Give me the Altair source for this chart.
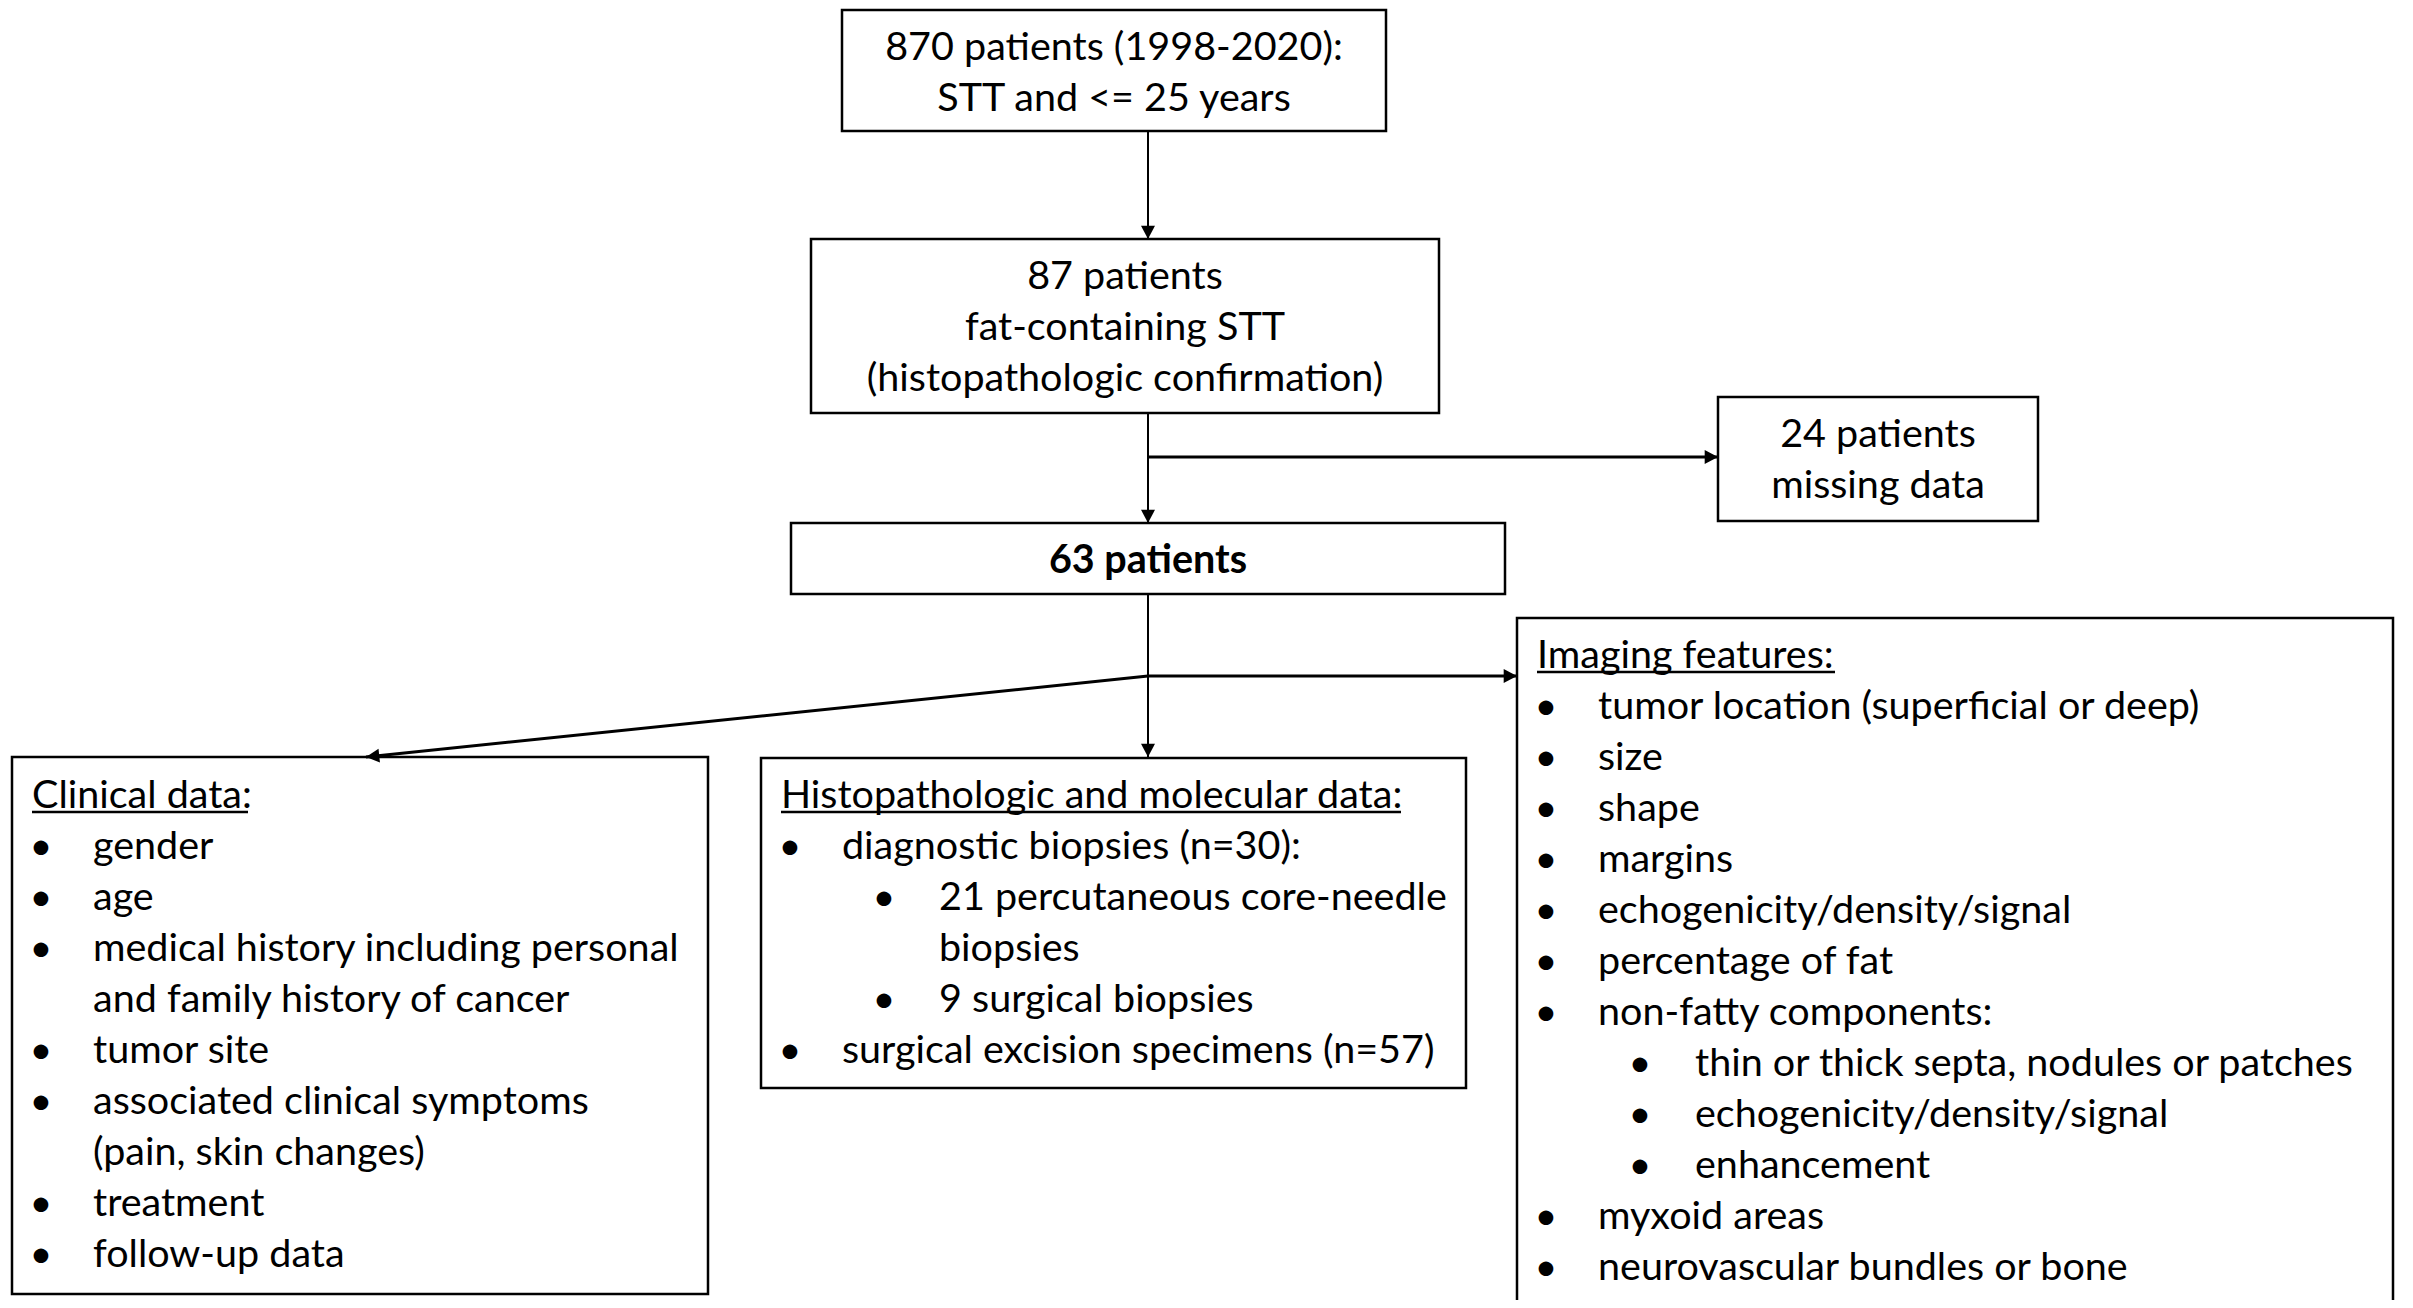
import math
import altair as alt
import pandas as pd

# ---------------- content ----------------
screening_lines = ["870 patients (1998-2020):", "STT and <= 25 years"]
fat_lines = ["87 patients", "fat-containing STT", "(histopathologic confirmation)"]
excluded_lines = ["24 patients", "missing data"]
included_lines = ["63 patients"]

clinical_title = "Clinical data:"
clinical_text = ["gender", "age", "medical history including personal",
                 "and family history of cancer", "tumor site",
                 "associated clinical symptoms", "(pain, skin changes)",
                 "treatment", "follow-up data"]
clinical_level = [1, 1, 1, 1, 1, 1, 1, 1, 1]
clinical_bullet = [1, 1, 1, 0, 1, 1, 0, 1, 1]

histo_title = "Histopathologic and molecular data:"
histo_text = ["diagnostic biopsies (n=30):", "21 percutaneous core-needle",
              "biopsies", "9 surgical biopsies",
              "surgical excision specimens (n=57)"]
histo_level = [1, 2, 2, 2, 1]
histo_bullet = [1, 1, 0, 1, 1]

imaging_title = "Imaging features:"
imaging_text = ["tumor location (superficial or deep)", "size", "shape", "margins",
                "echogenicity/density/signal", "percentage of fat",
                "non-fatty components:", "thin or thick septa, nodules or patches",
                "echogenicity/density/signal", "enhancement", "myxoid areas",
                "neurovascular bundles or bone"]
imaging_level = [1, 1, 1, 1, 1, 1, 1, 2, 2, 2, 1, 1]
imaging_bullet = [1] * 12

# ---------------- layout (pixels) ----------------
W, H, M = 2395, 1292, 8
FONT = "Lato"
FS = 39.5
STEP = 51

BOX = {
    "screen": (842, 10, 1386, 131),
    "fat": (811, 239, 1439, 413),
    "excl": (1718, 397, 2038, 521),
    "incl": (791, 523, 1505, 594),
    "clin": (12, 757, 708, 1294),
    "histo": (761, 758, 1466, 1088),
    "img": (1517, 618, 2393, 1340),
}
CENTER_BASE = {
    "screen": (screening_lines, [60, 111], "normal"),
    "fat": (fat_lines, [289, 340, 391], "normal"),
    "excl": (excluded_lines, [447, 498], "normal"),
    "incl": (included_lines, [573], "bold"),
}
LISTS = {
    "clin": (clinical_title, clinical_text, clinical_level, clinical_bullet, 808, 216),
    "histo": (histo_title, histo_text, histo_level, histo_bullet, 808, 620),
    "img": (imaging_title, imaging_text, imaging_level, imaging_bullet, 668, 298),
}
IND_HEAD, IND_B1, IND_T1, IND_B2, IND_T2 = 20, 29, 81, 123, 178

TX = 1148
ARROWS = [  # x1, y1, x2, y2, width, head
    (TX, 131, TX, 239, 2, True),
    (TX, 413, TX, 523, 2, True),
    (TX, 457, 1718, 457, 3, True),
    (TX, 594, TX, 757, 2, True),
    (TX, 676, 1517, 676, 3, True),
    (TX, 676, 366, 757, 3, True),
]

# ---------------- build tables ----------------
boxes = pd.DataFrame([dict(name=k, x=v[0], y=v[1], x2=v[2], y2=v[3]) for k, v in BOX.items()])

center_rows = []
for k, (lines, bases, weight) in CENTER_BASE.items():
    x0, y0, x1, y1 = BOX[k]
    for t, b in zip(lines, bases):
        center_rows.append(dict(x=(x0 + x1) / 2, y=b, text=t, weight=weight))
center_df = pd.DataFrame(center_rows)

left_rows, bullet_rows, under_rows = [], [], []
for k, (title, texts, levels, bullets, base, ulen) in LISTS.items():
    x0 = BOX[k][0]
    left_rows.append(dict(x=x0 + IND_HEAD, y=base, text=title))
    under_rows.append(dict(x=x0 + IND_HEAD, y=base + 4, x2=x0 + IND_HEAD + ulen, y2=base + 4, w=2.5))
    for i, (t, lv, bl) in enumerate(zip(texts, levels, bullets)):
        yb = base + STEP * (i + 1)
        tx = x0 + (IND_T1 if lv == 1 else IND_T2)
        left_rows.append(dict(x=tx, y=yb, text=t))
        if bl:
            bullet_rows.append(dict(x=x0 + (IND_B1 if lv == 1 else IND_B2), y=yb, text="\u2022"))
left_df = pd.DataFrame(left_rows)
bullet_df = pd.DataFrame(bullet_rows)

seg_rows, head_rows = [], []
for x1, y1, x2, y2, w, head in ARROWS:
    seg_rows.append(dict(x=x1, y=y1, x2=x2, y2=y2, w=w))
    if head:
        dx, dy = x2 - x1, y2 - y1
        ang = math.degrees(math.atan2(-dx, dy)) % 360
        head_rows.append(dict(x=x2, y=y2, ang=ang))
seg_df = pd.DataFrame(seg_rows + under_rows)
head_df = pd.DataFrame(head_rows)

xs = alt.Scale(domain=[M, M + W], zero=False, nice=False)
ys = alt.Scale(domain=[M, M + H], zero=False, nice=False, reverse=True)

rects = alt.Chart(boxes).mark_rect(fill="white", stroke="black", strokeWidth=2.5, clip=True).encode(
    x=alt.X("x:Q", scale=xs, axis=None), x2="x2:Q",
    y=alt.Y("y:Q", scale=ys, axis=None), y2="y2:Q",
)

segs = alt.Chart(seg_df).mark_rule(color="black", strokeCap="butt").encode(
    x=alt.X("x:Q", scale=xs, axis=None), x2="x2:Q",
    y=alt.Y("y:Q", scale=ys, axis=None), y2="y2:Q",
    strokeWidth=alt.StrokeWidth("w:Q", scale=None, legend=None),
)

heads = alt.Chart(head_df).mark_point(
    shape="M0,0L-1,-1.9L1,-1.9Z", filled=True, color="black", opacity=1, size=196, strokeWidth=0
).encode(
    x=alt.X("x:Q", scale=xs, axis=None),
    y=alt.Y("y:Q", scale=ys, axis=None),
    angle=alt.Angle("ang:Q", scale=None),
)

ctext_n = alt.Chart(center_df[center_df.weight == "normal"]).mark_text(
    font=FONT, fontSize=FS, align="center", baseline="alphabetic", color="black"
).encode(x=alt.X("x:Q", scale=xs, axis=None), y=alt.Y("y:Q", scale=ys, axis=None), text="text:N")

ctext_b = alt.Chart(center_df[center_df.weight == "bold"]).mark_text(
    font=FONT, fontSize=FS, fontWeight="bold", align="center", baseline="alphabetic", color="black"
).encode(x=alt.X("x:Q", scale=xs, axis=None), y=alt.Y("y:Q", scale=ys, axis=None), text="text:N")

ltext = alt.Chart(left_df).mark_text(
    font=FONT, fontSize=FS, align="left", baseline="alphabetic", color="black"
).encode(x=alt.X("x:Q", scale=xs, axis=None), y=alt.Y("y:Q", scale=ys, axis=None), text="text:N")

btext = alt.Chart(bullet_df).mark_text(
    font=FONT, fontSize=FS, align="center", baseline="alphabetic", color="black"
).encode(x=alt.X("x:Q", scale=xs, axis=None), y=alt.Y("y:Q", scale=ys, axis=None), text="text:N")

chart = alt.layer(rects, segs, heads, ctext_n, ctext_b, ltext, btext).properties(
    width=W, height=H, autosize=alt.AutoSizeParams(type="none"), padding=0,
    background="white",
).configure_view(stroke=None)

chart.save("out.html", embed_options={"renderer": "svg", "actions": False})
